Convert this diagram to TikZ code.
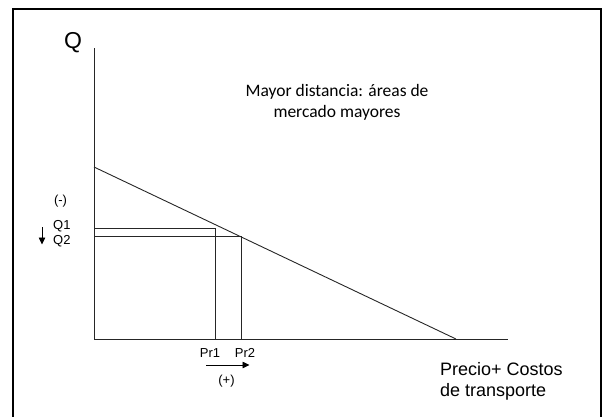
\documentclass[tikz,border=0pt]{standalone}
\usepackage{fontspec}
\setmainfont{Liberation Sans}
\newfontfamily\calibri{Carlito}
\usetikzlibrary{arrows.meta}

\begin{document}
\begin{tikzpicture}[x=1pt,y=-1pt,
axis/.style={line width=0.9pt,color=black!85},
guide/.style={line width=0.8pt,color=black!85},
small/.style={font=\fontsize{13}{15}\selectfont,inner sep=0pt},
pointer/.style={-{Triangle[length=7pt,width=6.5pt]},line width=0.8pt}]
\useasboundingbox (0,0) rectangle (603,416);
\draw[line width=2pt] (13,420) -- (13,9) -- (601,9) -- (601,420);
\coordinate (O) at (94,339);
\coordinate (ytop) at (94,48);
\coordinate (xend) at (508,339);
\coordinate (d1) at (94,167);
\coordinate (d2) at (456,339);
\coordinate (q1) at (94,228);
\coordinate (p1) at (215,339);
\coordinate (q2) at (94,236);
\coordinate (p2) at (241,339);
\draw[axis] (ytop) -- (O) -- (xend);
\draw[axis] (d1) -- (d2);
\draw[guide] (q1) -| (p1);
\draw[guide] (q2) -| (p2);
\node[font=\fontsize{23}{26}\selectfont,inner sep=0pt] (Q) at (73,43) {Q};
\node[font=\calibri\fontsize{17.5}{21.5}\selectfont,align=center,anchor=north,inner sep=0pt] (mayor) at (337,84) {Mayor distancia: áreas de\\mercado mayores};
\node[font=\fontsize{18}{21}\selectfont,align=left,anchor=north west,inner sep=0pt] (precio) at (440,362.5) {Precio+ Costos\\de transporte};
\node[small] (menos) at (60.5,201) {(-)};
\node[small,anchor=west] (q1lab) at (53,226.3) {Q1};
\node[small,anchor=west] (q2lab) at (53,241) {Q2};
\node[small] (pr1lab) at (210,353) {Pr1};
\node[small] (pr2lab) at (245,353) {Pr2};
\node[small] (mas) at (226.5,381) {(+)};
\coordinate (dtop) at (42,227);
\coordinate (dbot) at (42,244.5);
\coordinate (rleft) at (206,365);
\coordinate (rright) at (249.5,365);
\draw[pointer] (dtop) -- (dbot);
\draw[pointer] (rleft) -- (rright);
\end{tikzpicture}
\end{document}
